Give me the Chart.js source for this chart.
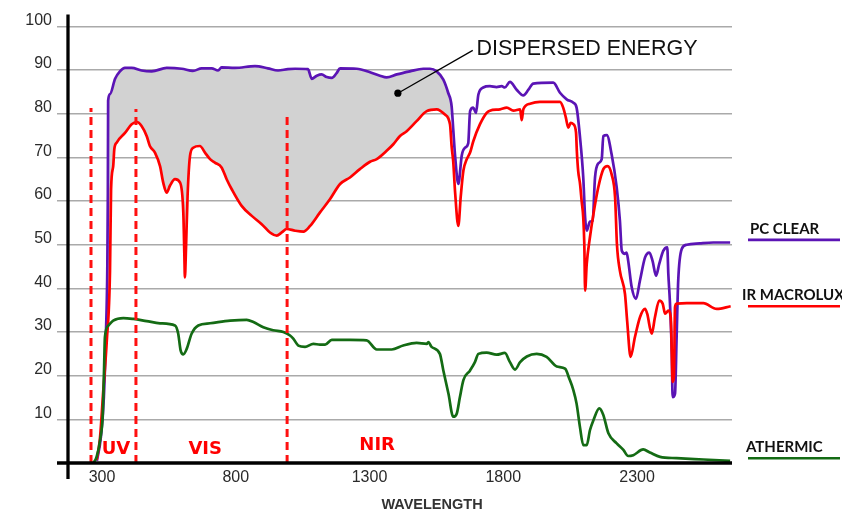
<!DOCTYPE html>
<html><head><meta charset="utf-8">
<script src="https://cdn.jsdelivr.net/npm/chart.js@4"></script>
<style>html,body{margin:0;padding:0;background:#fff;}#wrap{width:842px;height:513px;position:relative;}</style>
</head><body><div id="wrap"><canvas id="c" width="842" height="513"></canvas></div>
<script>
// ---------- DATA ----------
const seriesNames = ['PC CLEAR', 'IR MACROLUX', 'ATHERMIC'];
const wlTicks = [300, 800, 1300, 1800, 2300];

const pcClearWl = [281,296,307,315,320,322,323,330,349,367,386,411,448,486,542,598,640,673,710,734,747,797,872,920,958,995,1022,1070,1084,1103,1121,1140,1159,1177,1190,1252,1302,1339,1364,1402,1451,1501,1526,1551,1576,1594,1607,1613,1620,1632,1645,1657,1669,1676,1688,1698,1707,1725,1750,1775,1794,1806,1825,1850,1875,1894,1912,1987,2012,2037,2062,2074,2087,2099,2106,2112,2124,2134,2143,2155,2168,2174,2187,2205,2224,2236,2243,2255,2261,2267,2280,2296,2311,2330,2346,2358,2371,2383,2398,2413,2417,2423,2430,2433,2442,2448,2454,2467,2486,2535,2585,2648];
const pcClearVal = [0.5,6,15,30,45,62,83,84.5,88,89.7,90.5,90.5,89.9,89.7,90.5,90.3,89.8,90.4,90.4,89.9,90.6,90.5,90.9,90.4,89.9,90.2,90.3,90.2,88,88.7,89,88.4,88.2,89.3,90.4,90.3,89.5,88.7,88.3,89,89.7,90.3,90.3,89.7,87.8,84.8,81.7,76.4,70.3,63.9,70.5,72.2,73.2,80.6,81.4,80.2,84.4,86,86.3,86.1,86.3,86,87.3,85.5,84.2,85.5,86.9,87.1,84.8,83.3,82.5,81.4,74.5,65.4,56.2,53.2,55.3,55.5,65.4,68.6,69.6,74.9,75.1,70.7,63.1,55.5,48.6,47.9,48.2,46.3,40.3,37.6,41.8,47.1,48.2,46.3,42.9,45.6,48.6,49.4,43.3,36.8,25,15.1,15.9,28.8,41.8,49,50,50.3,50.5,50.5];

const irWl = [280,292,305,318,330,334,342,346,355,386,411,430,448,467,479,498,517,529,542,554,573,592,604,608,610,614,620,629,641,666,685,704,722,747,766,785,822,860,897,928,953,972,990,1022,1053,1078,1115,1152,1190,1227,1264,1302,1327,1364,1389,1414,1439,1476,1514,1551,1582,1601,1607,1613,1620,1632,1641,1651,1663,1676,1688,1713,1738,1750,1788,1813,1838,1863,1869,1875,1900,1937,2012,2024,2034,2043,2052,2062,2072,2075,2080,2087,2093,2099,2103,2106,2112,2124,2137,2155,2174,2190,2205,2218,2225,2236,2255,2263,2276,2292,2311,2330,2338,2355,2367,2383,2396,2405,2417,2426,2430,2433,2438,2442,2448,2486,2548,2598,2650];
const irVal = [0.7,5.3,16.7,28,44,62.7,68,71.8,73.4,75.6,77.6,78.1,77.2,74.9,72.6,71.1,68,64.2,61.9,63.5,65,64.2,57.4,47.5,42.5,49,61.2,70.3,72.2,72.6,71.1,69.6,68.8,67.7,65,62.7,58.9,56.6,54.7,52.8,52.1,52.8,53.6,53.2,53,54.3,57.4,60.4,63.9,65.4,67.3,69,69.6,71.5,73,74.9,76,78.3,80.6,81,79.8,77.5,72.5,69,62,54.3,61,67,69.5,71.1,73.7,77.6,80.2,80.7,81,81.4,80.7,81,78.5,81,82.3,82.7,82.7,81.4,79.1,76.8,77.9,77.6,75.7,71.5,66.9,63.9,60,56.2,50,39.5,45.6,51.7,57,63.1,67.3,68,66.1,60.8,50,44,38.7,32.6,24.3,28.8,33.4,35.3,34.2,29.6,33.4,37.2,36.5,34.2,34.9,33.4,25,18.6,19.7,35.7,36.5,36.6,36.6,35.3,35.9];

const athWl = [268,280,293,303,308,311,324,342,380,417,467,517,573,585,594,604,617,635,660,704,779,841,866,903,940,978,1003,1015,1034,1059,1090,1115,1134,1159,1227,1289,1327,1383,1426,1476,1514,1520,1532,1563,1576,1595,1613,1626,1638,1651,1676,1694,1707,1738,1775,1806,1825,1844,1863,1888,1925,1962,2000,2031,2047,2062,2074,2087,2099,2112,2124,2137,2159,2174,2193,2224,2249,2267,2286,2323,2348,2386,2448,2548,2648];
const athVal = [0,1.4,5.3,11.3,22,28.8,31.5,32.6,33.2,33,32.5,32,31.5,29.6,25.8,24.9,26.2,29.6,31.5,32,32.6,32.8,32.3,31.1,30.4,30,29.2,28.5,26.9,26.6,27.3,27.1,27.1,28.2,28.2,28.1,26,26,26.9,27.5,27.3,27.7,26.6,25,21.2,15.9,10.6,11.3,15.1,19,21.2,23.1,25,25.3,24.8,25.2,23.1,21.4,23.1,24.4,25,24.3,22.1,21.6,19.3,16.7,13.6,8.1,4.1,4.1,7.5,9.8,12.5,11,6.8,4.5,3,1.6,1.8,3.1,2.4,1.4,1.1,0.8,0.5];

// band boundaries (dashed red lines) and their top value
const bandWl = [259, 427, 992];
const bandTop = [81.3, 81.1, 80.4];
const regionNames = ['UV', 'VIS', 'NIR'];
const regionWl = [299, 623, 1262];
const regionVal = [2.05, 2.05, 2.97];
const fillEndWl = 1605;            // dispersed energy area ends here
const calloutDot = [1406, 84.7];
const calloutEnd = [1686, 94.5];
const calloutText = 'DISPERSED ENERGY';
const calloutTextPos = [1700, 93.4];
const legendLevels = [51.1, 35.9, 1.1];

// ---------- helpers ----------
const pts = (xs, ys) => xs.map((v, i) => ({x: v, y: ys[i]}));
function interp(xs, ys, v) {
  for (let i = 1; i < xs.length; i++) {
    if (xs[i] >= v) { const t = (v - xs[i-1]) / (xs[i] - xs[i-1]); return ys[i-1] + t * (ys[i] - ys[i-1]); }
  }
  return ys[ys.length - 1];
}
const pcPts = pts(pcClearWl, pcClearVal);
const irPts = pts(irWl, irVal);
const athPts = pts(athWl, athVal);
const endPt = {x: fillEndWl, y: interp(pcClearWl, pcClearVal, fillEndWl)};
const fillTopPts = pcPts.filter(p => p.x < fillEndWl).concat([endPt]);
const fillBotPts = irPts.filter(p => p.x < fillEndWl).concat([endPt]);

const COLORS = ['#5b14b5', '#ff0000', '#146b14'];
const FONT = 'Liberation Sans';

const lineDs = (label, data, color, order) => ({
  label, data, borderColor: color, borderWidth: 2.7, pointRadius: 0, fill: false,
  cubicInterpolationMode: 'monotone', order
});

const datasets = [
  {label: 'fillTop', data: fillTopPts, borderWidth: 0, borderColor: 'rgba(0,0,0,0)', pointRadius: 0,
   backgroundColor: '#d2d2d2', fill: {target: 1}, cubicInterpolationMode: 'monotone', order: 10},
  {label: 'fillBot', data: fillBotPts, borderWidth: 0, borderColor: 'rgba(0,0,0,0)', pointRadius: 0,
   fill: false, cubicInterpolationMode: 'monotone', order: 11},
  lineDs(seriesNames[0], pcPts, COLORS[0], 3),
  lineDs(seriesNames[1], irPts, COLORS[1], 2),
  lineDs(seriesNames[2], athPts, COLORS[2], 1),
];
bandWl.forEach((w, i) => datasets.push({
  label: 'band' + i, data: [{x: w, y: 0}, {x: w, y: bandTop[i]}], borderColor: '#ff1010',
  borderWidth: 3, borderDash: [8, 5], pointRadius: 0, tension: 0, fill: false, order: 0
}));

const overlay = {
  id: 'overlay',
  afterDraw(chart) {
    const {ctx, chartArea: a, scales: {x, y}} = chart;
    ctx.save();
    // axes
    ctx.strokeStyle = '#000'; ctx.lineWidth = 3.3; ctx.lineCap = 'butt';
    ctx.beginPath(); ctx.moveTo(a.left, a.top); ctx.lineTo(a.left, a.bottom + 16); ctx.stroke();
    ctx.beginPath(); ctx.moveTo(a.left - 11, a.bottom); ctx.lineTo(a.right, a.bottom); ctx.stroke();
    // region labels
    ctx.fillStyle = '#ff0000'; ctx.font = 'bold 18px "DejaVu Sans"';
    ctx.textAlign = 'left'; ctx.textBaseline = 'alphabetic';
    regionNames.forEach((t, i) => ctx.fillText(t, x.getPixelForValue(regionWl[i]), y.getPixelForValue(regionVal[i])));
    // callout
    const dx = x.getPixelForValue(calloutDot[0]), dy = y.getPixelForValue(calloutDot[1]);
    const ex = x.getPixelForValue(calloutEnd[0]), ey = y.getPixelForValue(calloutEnd[1]);
    ctx.strokeStyle = '#000'; ctx.lineWidth = 1.3;
    ctx.beginPath(); ctx.moveTo(dx, dy); ctx.lineTo(ex, ey); ctx.stroke();
    ctx.fillStyle = '#000'; ctx.beginPath(); ctx.arc(dx, dy, 3.6, 0, Math.PI * 2); ctx.fill();
    ctx.fillStyle = '#111'; ctx.font = '21.5px "' + FONT + '"';
    ctx.fillText(calloutText, x.getPixelForValue(calloutTextPos[0]), y.getPixelForValue(calloutTextPos[1]));
    // right-hand series labels
    const textLeft = [750, 742, 746];
    ctx.font = 'bold 15px Lato';
    seriesNames.forEach((n, i) => {
      const ly = y.getPixelForValue(legendLevels[i]);
      ctx.strokeStyle = COLORS[i]; ctx.lineWidth = 2.6;
      ctx.beginPath(); ctx.moveTo(a.right + 16, ly); ctx.lineTo(a.right + 108, ly); ctx.stroke();
      ctx.fillStyle = '#111';
      ctx.fillText(n, textLeft[i], ly - 6);
    });
    // axis title
    ctx.fillStyle = '#333'; ctx.font = 'bold 14.5px "' + FONT + '"'; ctx.textAlign = 'center';
    ctx.fillText('WAVELENGTH', 432, 509);
    ctx.restore();
  }
};

new Chart(document.getElementById('c'), {
  type: 'line',
  data: {datasets},
  options: {
    responsive: false, animation: false, events: [],
    layout: {padding: {top: 13, right: 110, left: 0, bottom: 0}},
    plugins: {legend: {display: false}, tooltip: {enabled: false}},
    scales: {
      x: {
        type: 'linear', min: 173, max: 2655,
        grid: {display: false, drawTicks: false}, border: {display: false},
        ticks: {font: {family: FONT, size: 16}, color: '#2a2a2a', padding: 5, autoSkip: false, maxRotation: 0,
                callback: v => String(v)},
        afterBuildTicks: s => { s.ticks = wlTicks.map(v => ({value: v})); },
        afterFit: s => { s.height = 50; }
      },
      y: {
        type: 'linear', min: 0, max: 102.7,
        ticks: {stepSize: 10, includeBounds: false, callback: v => v === 0 ? '' : String(v),
                font: {family: FONT, size: 16}, color: '#2a2a2a', padding: 5, labelOffset: -6},
        grid: {color: '#aaaaaa', lineWidth: 1.5, tickLength: 11, drawTicks: true},
        border: {display: false},
        afterFit: s => { s.width = 68; }
      }
    }
  },
  plugins: [overlay]
});
</script></body></html>
